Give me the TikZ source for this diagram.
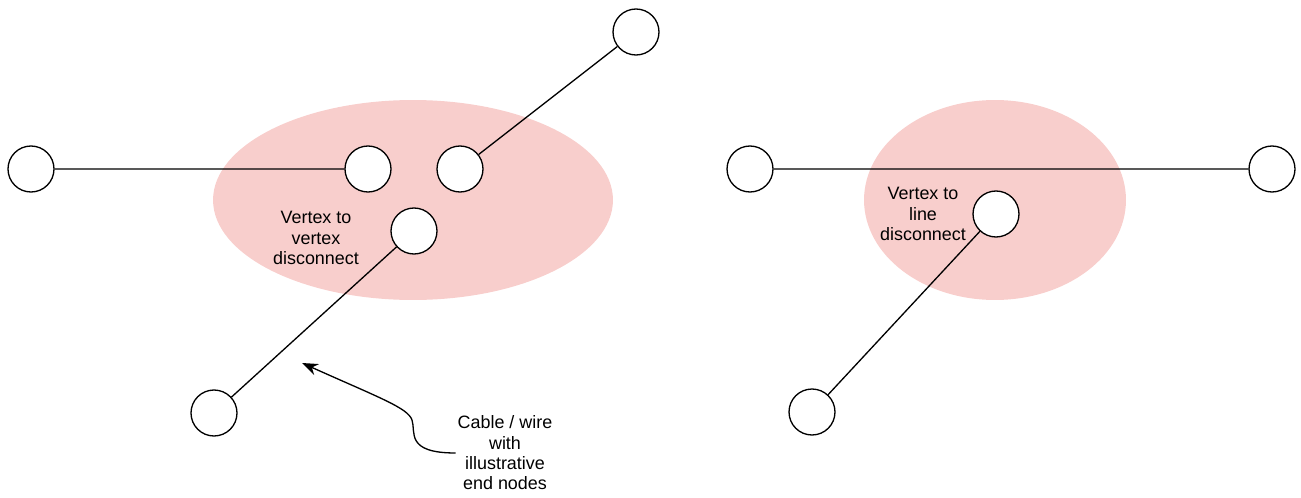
\documentclass[tikz,border=0pt]{standalone}
\usepackage{fontspec}
\setmainfont{Liberation Sans}
\definecolor{zonered}{RGB}{248,206,204}
\usetikzlibrary{positioning}
\usetikzlibrary{shapes.geometric,backgrounds,arrows.meta}

\begin{document}
\begin{tikzpicture}[x=0.02cm,y=-0.02cm,
    vertex/.style={circle,draw,fill=white,line width=0.75pt,minimum size=0.92cm,inner sep=0pt},
    zone/.style={ellipse,fill=zonered,inner sep=0pt},
    note/.style={align=center,font=\fontsize{10.2}{11.6}\selectfont,inner sep=1pt},
    wire/.style={line width=0.75pt}]
  \useasboundingbox (0,0) rectangle (1301,497);

  % left: vertex to vertex
  \node [vertex] (farleft) at (31,169) {};
  \node [vertex] (gapleft) at (368,169) {};
  \node [vertex] (gapright) at (460,169) {};
  \node [vertex] (gaplow) at (414,231) {};
  \node [vertex] (top) at (636,32) {};
  \node [vertex] (bottom) at (214,413) {};
  \node [note] (vvtext) at (316,238) {Vertex to\\vertex\\disconnect};

  \draw [wire] (farleft) -- (gapleft) (gapright) -- (top) (gaplow) -- (bottom);

  % right: vertex to line
  \node [vertex] (lineleft) at (750,169) {};
  \node [vertex] (lineright) at (1272,169) {};
  \node [vertex] (loose) at (996,214) {};
  \node [vertex] (looseend) at (812,412) {};
  \node [note] (vltext) at (923,214) {Vertex to\\line\\disconnect};

  \draw [wire] (lineleft) -- (lineright) (loose) -- (looseend);

  % callout
  \node [note] (cable) at (505,453) {Cable / wire\\with\\illustrative\\end nodes};
  \coordinate (pointer) at (302,363);
  \draw [line width=0.75pt,-{Stealth[length=3.2mm,width=2.4mm]}] (cable.west) .. controls (405,453) and (416,432) .. (412,420) .. controls (408,408) and (380,398) .. (pointer);

  \begin{scope}[on background layer]
    \node [zone, minimum width=8cm, minimum height=4cm] (vvzone) at (413,200) {};
    \node [zone, minimum width=5.24cm, minimum height=4cm] (vlzone) at (995,200) {};
  \end{scope}
\end{tikzpicture}
\end{document}
